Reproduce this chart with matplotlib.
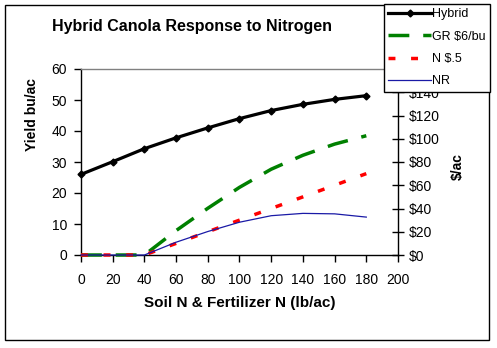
import matplotlib
matplotlib.use("Agg")
import matplotlib.pyplot as plt
from matplotlib.patches import Rectangle
from matplotlib.ticker import FuncFormatter

plt.rcParams['font.family'] = ['Liberation Sans', 'DejaVu Sans']

# soil + fertilizer N (lb/ac)
nitrogen = [0, 20, 40, 60, 80, 100, 120, 140, 160, 180]
# yield bu/ac
hybrid = [26.0, 30.1, 34.3, 37.8, 41.0, 44.0, 46.6, 48.6, 50.2, 51.4]
# $/ac
gross_return = [0, 0, 0, 21.0, 40.2, 58.2, 73.8, 85.8, 95.4, 102.6]
n_cost = [0, 0, 0, 10, 20, 30, 40, 50, 60, 70]
net_return = [0, 0, 0, 11.0, 20.2, 28.2, 33.8, 35.8, 35.4, 32.6]

x_ticks = list(range(0, 201, 20))
yield_ticks = list(range(0, 61, 10))
dollar_ticks = list(range(0, 141, 20))

fig = plt.figure(figsize=(4.97, 3.48), dpi=100)
ax = fig.add_axes([81/497, 1 - 255/348, 317/497, 186/348])
ax2 = ax.twinx()

fs = 10

h1, = ax.plot(nitrogen, hybrid, color='black', lw=2.3, marker='D', ms=3.5,
              label='Hybrid', clip_on=False, zorder=5)
h2, = ax2.plot(nitrogen, gross_return, color='#008000', lw=2.5,
               dashes=(6, 4), label='GR $6/bu', clip_on=False)
h3, = ax2.plot(nitrogen, n_cost, color='#ff0000', lw=2.5,
               dashes=(2, 4.5), label='N $.5', clip_on=False)
h4, = ax2.plot(nitrogen, net_return, color='#1a1aa6', lw=0.9,
               label='NR', clip_on=False)

ax.set_xlim(0, 200)
ax.set_ylim(0, 60)
ax2.set_ylim(0, 160)
ax.set_xticks(x_ticks)
ax.set_yticks(yield_ticks)
ax2.set_yticks(dollar_ticks)
ax2.yaxis.set_major_formatter(FuncFormatter(lambda v, p: '$%d' % v))

for a in (ax, ax2):
    for s in a.spines.values():
        s.set_linewidth(1)
ax.spines['top'].set_color('#808080')
ax.spines['right'].set_visible(False)
ax2.spines['top'].set_visible(False)
ax2.spines['left'].set_visible(False)
ax2.spines['bottom'].set_visible(False)

ax.tick_params(axis='both', direction='out', length=5, width=1, labelsize=fs,
               pad=5)
ax.tick_params(axis='x', pad=8)
ax2.tick_params(axis='y', direction='inout', length=8, width=1, labelsize=fs,
                pad=3.5)

# axis titles
fig.text(240/497, 1 - 303/348, 'Soil N & Fertilizer N (lb/ac)',
         fontsize=11, fontweight='bold', ha='center', va='center')
fig.text(32/497, 1 - 115/348, 'Yield bu/ac', fontsize=10, fontweight='bold',
         rotation=90, ha='center', va='center')
fig.text(458/497, 1 - 167/348, '$/ac', fontsize=10, fontweight='bold',
         rotation=90, ha='center', va='center')

fig.text(52/497, 1 - 27/348, 'Hybrid Canola Response to Nitrogen',
         fontsize=11.5, fontweight='bold', va='center', ha='left')

leg = fig.legend(handles=[h1, h2, h3, h4], loc='upper right',
                 bbox_to_anchor=(490/497, 1 - 4/348), fontsize=9,
                 frameon=True, fancybox=False, framealpha=1, edgecolor='black',
                 borderpad=0.35, labelspacing=0.82, handlelength=3.4,
                 handletextpad=0.1, borderaxespad=0)
leg.get_frame().set_linewidth(1)

fig.patches.append(Rectangle((5/497, 8/348), 484/497, 335/348,
                             transform=fig.transFigure, fill=False,
                             edgecolor='black', lw=1, zorder=0))

fig.savefig('out.png', dpi=100)
